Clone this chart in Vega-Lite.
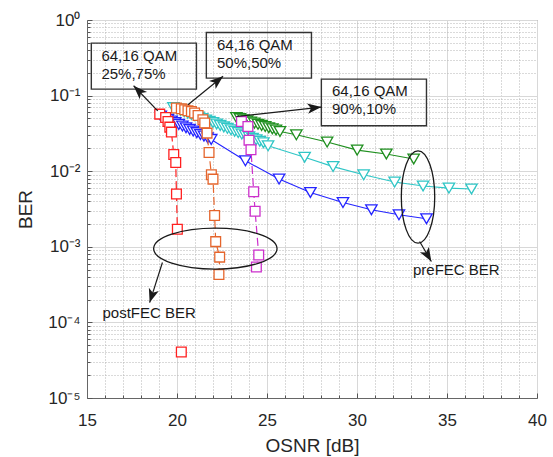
{
  "$schema": "https://vega.github.io/schema/vega-lite/v6.json",
  "width": 450,
  "height": 378,
  "autosize": {"type": "none"},
  "padding": {"left": 87, "top": 20, "right": 16, "bottom": 59},
  "background": "white",
  "config": {
    "view": {"stroke": "#666666", "strokeWidth": 1},
    "font": "Liberation Sans",
    "axis": {
      "labelFont": "Liberation Sans",
      "titleFont": "Liberation Sans",
      "labelColor": "#262626",
      "titleColor": "#262626",
      "titleFontWeight": "normal",
      "domainColor": "#666666",
      "tickColor": "#555555",
      "labelOverlap": false,
      "labelFlush": false
    }
  },
  "datasets": {
    "pre": [
      {"s": "pre25", "x": 19.1, "y": 0.0537}, {"s": "pre25", "x": 19.3, "y": 0.0511}, {"s": "pre25", "x": 19.5, "y": 0.0485},
      {"s": "pre25", "x": 19.7, "y": 0.0461}, {"s": "pre25", "x": 19.9, "y": 0.0438}, {"s": "pre25", "x": 20.1, "y": 0.0416},
      {"s": "pre25", "x": 20.3, "y": 0.0395}, {"s": "pre25", "x": 20.5, "y": 0.0376}, {"s": "pre25", "x": 20.7, "y": 0.0357},
      {"s": "pre25", "x": 20.9, "y": 0.034}, {"s": "pre25", "x": 21.1, "y": 0.0323}, {"s": "pre25", "x": 21.3, "y": 0.0306},
      {"s": "pre25", "x": 21.5, "y": 0.0291}, {"s": "pre25", "x": 21.7, "y": 0.0277}, {"s": "pre25", "x": 21.9, "y": 0.0263},
      {"s": "pre25", "x": 23.8, "y": 0.01374}, {"s": "pre25", "x": 25.67, "y": 0.00786}, {"s": "pre25", "x": 27.41, "y": 0.00523},
      {"s": "pre25", "x": 29.22, "y": 0.00385}, {"s": "pre25", "x": 30.8, "y": 0.00309}, {"s": "pre25", "x": 32.33, "y": 0.00265},
      {"s": "pre25", "x": 33.86, "y": 0.00235},
      {"s": "pre50", "x": 19.8, "y": 0.0692}, {"s": "pre50", "x": 20.0, "y": 0.0664}, {"s": "pre50", "x": 20.2, "y": 0.0637},
      {"s": "pre50", "x": 20.4, "y": 0.0611}, {"s": "pre50", "x": 20.6, "y": 0.0586}, {"s": "pre50", "x": 20.8, "y": 0.0562},
      {"s": "pre50", "x": 21.0, "y": 0.054}, {"s": "pre50", "x": 21.2, "y": 0.0518}, {"s": "pre50", "x": 21.4, "y": 0.0497},
      {"s": "pre50", "x": 21.6, "y": 0.0476}, {"s": "pre50", "x": 21.8, "y": 0.0457}, {"s": "pre50", "x": 22.0, "y": 0.0439},
      {"s": "pre50", "x": 22.2, "y": 0.0421}, {"s": "pre50", "x": 22.4, "y": 0.0403}, {"s": "pre50", "x": 22.6, "y": 0.0385},
      {"s": "pre50", "x": 22.8, "y": 0.0369}, {"s": "pre50", "x": 23.0, "y": 0.0353}, {"s": "pre50", "x": 23.2, "y": 0.0338},
      {"s": "pre50", "x": 23.4, "y": 0.0324}, {"s": "pre50", "x": 23.6, "y": 0.031}, {"s": "pre50", "x": 23.8, "y": 0.0296},
      {"s": "pre50", "x": 24.0, "y": 0.0284}, {"s": "pre50", "x": 24.2, "y": 0.0272}, {"s": "pre50", "x": 24.4, "y": 0.026},
      {"s": "pre50", "x": 24.6, "y": 0.0249}, {"s": "pre50", "x": 24.8, "y": 0.0238}, {"s": "pre50", "x": 25.06, "y": 0.0217},
      {"s": "pre50", "x": 27.09, "y": 0.0153}, {"s": "pre50", "x": 28.67, "y": 0.0115}, {"s": "pre50", "x": 30.37, "y": 0.00896},
      {"s": "pre50", "x": 32.09, "y": 0.00718}, {"s": "pre50", "x": 33.67, "y": 0.00637}, {"s": "pre50", "x": 35.11, "y": 0.00597},
      {"s": "pre50", "x": 36.36, "y": 0.00582},
      {"s": "pre90", "x": 23.3, "y": 0.0513}, {"s": "pre90", "x": 23.5, "y": 0.0495}, {"s": "pre90", "x": 23.7, "y": 0.0479},
      {"s": "pre90", "x": 23.9, "y": 0.0462}, {"s": "pre90", "x": 24.1, "y": 0.0447}, {"s": "pre90", "x": 24.3, "y": 0.0432},
      {"s": "pre90", "x": 24.5, "y": 0.0417}, {"s": "pre90", "x": 24.7, "y": 0.0403}, {"s": "pre90", "x": 24.9, "y": 0.0389},
      {"s": "pre90", "x": 25.1, "y": 0.0376}, {"s": "pre90", "x": 25.3, "y": 0.0363}, {"s": "pre90", "x": 25.5, "y": 0.0351},
      {"s": "pre90", "x": 25.72, "y": 0.0335}, {"s": "pre90", "x": 26.63, "y": 0.0303}, {"s": "pre90", "x": 28.34, "y": 0.0243},
      {"s": "pre90", "x": 30.01, "y": 0.019}, {"s": "pre90", "x": 31.63, "y": 0.0169}, {"s": "pre90", "x": 33.15, "y": 0.0145}
    ],
    "post": [
      {"s": "post25", "g": 1, "i": 1, "x": 19.04, "y": 0.0569}, {"s": "post25", "g": 1, "i": 2, "x": 19.37, "y": 0.0513},
      {"s": "post25", "g": 1, "i": 3, "x": 19.5, "y": 0.0454}, {"s": "post25", "g": 1, "i": 4, "x": 19.6, "y": 0.0383},
      {"s": "post25", "g": 1, "i": 5, "x": 19.69, "y": 0.0329}, {"s": "post25", "g": 1, "i": 6, "x": 19.82, "y": 0.0166},
      {"s": "post25", "g": 1, "i": 7, "x": 19.93, "y": 0.013}, {"s": "post25", "g": 1, "i": 8, "x": 19.97, "y": 0.005},
      {"s": "post25", "g": 1, "i": 9, "x": 20.02, "y": 0.00171}, {"s": "post25", "g": 2, "i": 10, "x": 20.24, "y": 0.0000405},
      {"s": "post50", "g": 1, "i": 1, "x": 19.97, "y": 0.0684}, {"s": "post50", "g": 1, "i": 2, "x": 20.24, "y": 0.0669},
      {"s": "post50", "g": 1, "i": 3, "x": 20.43, "y": 0.0649}, {"s": "post50", "g": 1, "i": 4, "x": 20.61, "y": 0.0629},
      {"s": "post50", "g": 1, "i": 5, "x": 20.8, "y": 0.0616}, {"s": "post50", "g": 1, "i": 6, "x": 20.98, "y": 0.0587},
      {"s": "post50", "g": 1, "i": 7, "x": 21.17, "y": 0.0546}, {"s": "post50", "g": 1, "i": 8, "x": 21.44, "y": 0.0479},
      {"s": "post50", "g": 1, "i": 9, "x": 21.54, "y": 0.0433}, {"s": "post50", "g": 1, "i": 10, "x": 21.67, "y": 0.0319},
      {"s": "post50", "g": 1, "i": 11, "x": 21.78, "y": 0.0177}, {"s": "post50", "g": 1, "i": 12, "x": 21.91, "y": 0.00896},
      {"s": "post50", "g": 1, "i": 13, "x": 22.0, "y": 0.00786}, {"s": "post50", "g": 1, "i": 14, "x": 22.09, "y": 0.00259},
      {"s": "post50", "g": 1, "i": 15, "x": 22.15, "y": 0.00117}, {"s": "post50", "g": 1, "i": 16, "x": 22.37, "y": 0.00073},
      {"s": "post50", "g": 1, "i": 17, "x": 22.33, "y": 0.00043},
      {"s": "post90", "g": 1, "i": 1, "x": 23.58, "y": 0.0454}, {"s": "post90", "g": 1, "i": 2, "x": 23.94, "y": 0.039},
      {"s": "post90", "g": 1, "i": 3, "x": 24.0, "y": 0.0256}, {"s": "post90", "g": 1, "i": 4, "x": 24.11, "y": 0.0192},
      {"s": "post90", "g": 1, "i": 5, "x": 24.26, "y": 0.00534}, {"s": "post90", "g": 1, "i": 6, "x": 24.34, "y": 0.00295},
      {"s": "post90", "g": 1, "i": 7, "x": 24.54, "y": 0.00078}, {"s": "post90", "g": 1, "i": 8, "x": 24.41, "y": 0.00054}
    ],
    "boxes": [
      {"x": 15.24, "x2": 21.08, "y": 0.495, "y2": 0.1219},
      {"x": 21.63, "x2": 27.47, "y": 0.6834, "y2": 0.1704},
      {"x": 28.02, "x2": 33.86, "y": 0.1652, "y2": 0.0399}
    ],
    "labels": [
      {"x": 15.8, "y": 0.336, "t": "64,16 QAM"},
      {"x": 15.8, "y": 0.194, "t": "25%,75%"},
      {"x": 22.22, "y": 0.47, "t": "64,16 QAM"},
      {"x": 22.22, "y": 0.269, "t": "50%,50%"},
      {"x": 28.61, "y": 0.1168, "t": "64,16 QAM"},
      {"x": 28.61, "y": 0.0663, "t": "90%,10%"},
      {"x": 33.11, "y": 0.000496, "t": "preFEC BER"},
      {"x": 15.86, "y": 0.000135, "t": "postFEC BER"}
    ],
    "arrows": [
      {"x": 18.93, "y": 0.0629, "x2": 17.59, "y2": 0.1349},
      {"x": 20.61, "y": 0.0756, "x2": 22.56, "y2": 0.18},
      {"x": 23.3, "y": 0.0529, "x2": 28.02, "y2": 0.0705},
      {"x": 33.48, "y": 0.001175, "x2": 34.13, "y2": 0.000639},
      {"x": 19.19, "y": 0.00062, "x2": 18.48, "y2": 0.000183}
    ]
  },
  "encoding": {
    "x": {
      "field": "x", "type": "quantitative",
      "scale": {"type": "linear", "domain": [15, 40], "nice": false, "zero": false},
      "axis": {
        "title": "OSNR [dB]",
        "titleFontSize": 19,
        "titlePadding": 6,
        "labelFontSize": 17,
        "labelPadding": 19,
        "values": [15, 16, 17, 18, 19, 20, 21, 22, 23, 24, 25, 26, 27, 28, 29, 30, 31, 32, 33, 34, 35, 36, 37, 38, 39, 40],
        "labelExpr": "datum.value % 5 == 0 ? datum.label : ''",
        "grid": true,
        "gridDash": {"condition": {"test": "datum.value % 5 != 0", "value": [1, 2]}, "value": []},
        "gridColor": {"condition": {"test": "datum.value % 5 != 0", "value": "#b4b4b4"}, "value": "#d8d8d8"},
        "tickSize": {"condition": {"test": "datum.value % 5 != 0", "value": -3}, "value": -5}
      }
    },
    "y": {
      "field": "y", "type": "quantitative",
      "scale": {"type": "log", "domain": [0.00001, 1], "nice": false},
      "axis": {
        "title": "BER",
        "titleFontSize": 19,
        "titleBaseline": "middle",
        "titleX": -62,
        "labelFontSize": 17,
        "labelPadding": 12,
        "labelBaseline": "middle",
        "values": [0.00001, 0.00002, 0.00003, 0.00004, 0.00005, 0.00006, 0.00007, 0.00008, 0.00009,
                   0.0001, 0.0002, 0.0003, 0.0004, 0.0005, 0.0006, 0.0007, 0.0008, 0.0009,
                   0.001, 0.002, 0.003, 0.004, 0.005, 0.006, 0.007, 0.008, 0.009,
                   0.01, 0.02, 0.03, 0.04, 0.05, 0.06, 0.07, 0.08, 0.09,
                   0.1, 0.2, 0.3, 0.4, 0.5, 0.6, 0.7, 0.8, 0.9, 1],
        "labelExpr": "abs(log(datum.value)/LN10 - round(log(datum.value)/LN10)) < 0.001 ? (round(log(datum.value)/LN10) == 0 ? '10⁰' : '10⁻' + ['⁰','¹','²','³','⁴','⁵'][-round(log(datum.value)/LN10)]) : ''",
        "grid": true,
        "gridDash": {"condition": {"test": "abs(log(datum.value)/LN10 - round(log(datum.value)/LN10)) > 0.001", "value": [1, 2]}, "value": []},
        "gridColor": {"condition": {"test": "abs(log(datum.value)/LN10 - round(log(datum.value)/LN10)) > 0.001", "value": "#b4b4b4"}, "value": "#d8d8d8"},
        "tickSize": {"condition": {"test": "abs(log(datum.value)/LN10 - round(log(datum.value)/LN10)) > 0.001", "value": -3}, "value": -5}
      }
    }
  },
  "layer": [
    {
      "data": {"name": "pre"},
      "mark": {"type": "line", "strokeWidth": 1.1},
      "encoding": {
        "color": {"field": "s", "type": "nominal", "legend": null,
          "scale": {"domain": ["pre25", "pre50", "pre90", "post25", "post50", "post90"],
                    "range": ["#2424ff", "#2fc6c6", "#1f8f1f", "#ff2020", "#e5652c", "#cc30cc"]}}
      }
    },
    {
      "data": {"name": "pre"},
      "mark": {"type": "point", "shape": "triangle-down", "size": 130, "filled": true, "fill": "white", "opacity": 1, "strokeWidth": 1.3},
      "encoding": {
        "stroke": {"field": "s", "type": "nominal", "legend": null,
          "scale": {"domain": ["pre25", "pre50", "pre90", "post25", "post50", "post90"],
                    "range": ["#2424ff", "#2fc6c6", "#1f8f1f", "#ff2020", "#e5652c", "#cc30cc"]}}
      }
    },
    {
      "data": {"name": "post"},
      "mark": {"type": "line", "strokeWidth": 1.2, "strokeDash": [8, 4]},
      "encoding": {
        "color": {"field": "s", "type": "nominal", "legend": null,
          "scale": {"domain": ["pre25", "pre50", "pre90", "post25", "post50", "post90"],
                    "range": ["#2424ff", "#2fc6c6", "#1f8f1f", "#ff2020", "#e5652c", "#cc30cc"]}},
        "detail": {"field": "g", "type": "nominal"},
        "order": {"field": "i", "type": "quantitative"}
      }
    },
    {
      "data": {"name": "post"},
      "mark": {"type": "point", "shape": "square", "size": 95, "filled": true, "fill": "white", "opacity": 1, "strokeWidth": 1.3},
      "encoding": {
        "stroke": {"field": "s", "type": "nominal", "legend": null,
          "scale": {"domain": ["pre25", "pre50", "pre90", "post25", "post50", "post90"],
                    "range": ["#2424ff", "#2fc6c6", "#1f8f1f", "#ff2020", "#e5652c", "#cc30cc"]}}
      }
    },
    {
      "data": {"name": "boxes"},
      "mark": {"type": "rect", "fill": "white", "fillOpacity": 0, "stroke": "#333333", "strokeWidth": 1.4},
      "encoding": {"x2": {"field": "x2"}, "y2": {"field": "y2"}}
    },
    {
      "data": {"name": "labels"},
      "mark": {"type": "text", "align": "left", "baseline": "middle", "fontSize": 15, "font": "Liberation Sans", "color": "#1a1a1a"},
      "encoding": {"text": {"field": "t"}}
    },
    {
      "data": {"name": "arrows"},
      "mark": {"type": "rule", "color": "#1a1a1a", "strokeWidth": 1.2},
      "encoding": {"x2": {"field": "x2"}, "y2": {"field": "y2"}}
    },
    {
      "data": {"values": [{"x": 17.59, "y": 0.1349}]},
      "mark": {"type": "point", "shape": "M 0 0 L 0.6 1.6 L 0 1.2 L -0.6 1.6 Z", "size": 300, "filled": true, "fill": "#1a1a1a", "opacity": 1, "angle": 315}
    },
    {
      "data": {"values": [{"x": 22.56, "y": 0.18}]},
      "mark": {"type": "point", "shape": "M 0 0 L 0.6 1.6 L 0 1.2 L -0.6 1.6 Z", "size": 300, "filled": true, "fill": "#1a1a1a", "opacity": 1, "angle": 50.8}
    },
    {
      "data": {"values": [{"x": 28.02, "y": 0.0705}]},
      "mark": {"type": "point", "shape": "M 0 0 L 0.6 1.6 L 0 1.2 L -0.6 1.6 Z", "size": 300, "filled": true, "fill": "#1a1a1a", "opacity": 1, "angle": 83.7}
    },
    {
      "data": {"values": [{"x": 34.13, "y": 0.000639}]},
      "mark": {"type": "point", "shape": "M 0 0 L 0.6 1.6 L 0 1.2 L -0.6 1.6 Z", "size": 300, "filled": true, "fill": "#1a1a1a", "opacity": 1, "angle": 149.7}
    },
    {
      "data": {"values": [{"x": 18.48, "y": 0.000183}]},
      "mark": {"type": "point", "shape": "M 0 0 L 0.6 1.6 L 0 1.2 L -0.6 1.6 Z", "size": 300, "filled": true, "fill": "#1a1a1a", "opacity": 1, "angle": 197.6}
    },
    {
      "data": {"values": [{"x": 33.39, "y": 0.00456}]},
      "mark": {"type": "point", "shape": "M 0 -1 C 0.1997 -1 0.3615 -0.5523 0.3615 0 C 0.3615 0.5523 0.1997 1 0 1 C -0.1997 1 -0.3615 0.5523 -0.3615 0 C -0.3615 -0.5523 -0.1997 -1 0 -1 Z", "size": 8538, "filled": false, "stroke": "#1a1a1a", "strokeWidth": 1.3, "opacity": 1}
    },
    {
      "data": {"values": [{"x": 22.13, "y": 0.000946}]},
      "mark": {"type": "point", "shape": "M -1 0 C -1 -0.1835 -0.5523 -0.332 0 -0.332 C 0.5523 -0.332 1 -0.1835 1 0 C 1 0.1835 0.5523 0.332 0 0.332 C -0.5523 0.332 -1 0.1835 -1 0 Z", "size": 15228, "filled": false, "stroke": "#1a1a1a", "strokeWidth": 1.3, "opacity": 1}
    }
  ]
}
